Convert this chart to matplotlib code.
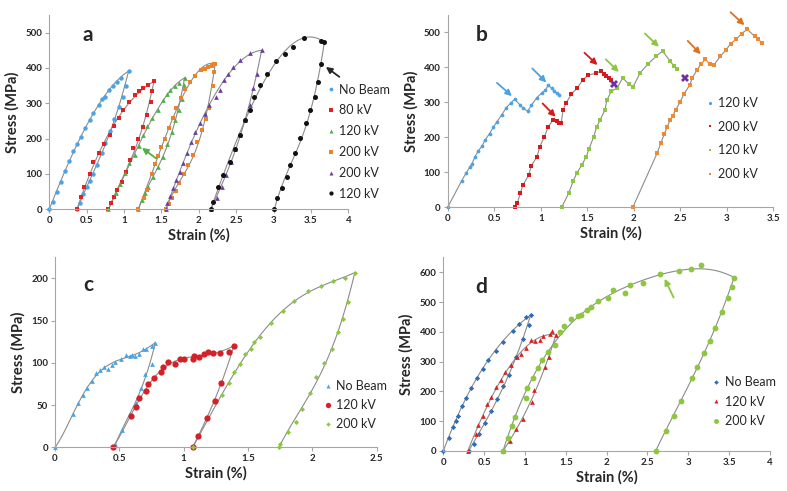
import numpy as np
import matplotlib
matplotlib.use('Agg')
import matplotlib.pyplot as plt
from matplotlib.lines import Line2D
from matplotlib.ticker import FuncFormatter

plt.rcParams['font.family'] = ['Lato', 'DejaVu Sans']

# ---- panel a: cyclic loading, one beam condition per cycle ----
a_nb_x = [0, 0.05, 0.10, 0.16, 0.21, 0.27, 0.32, 0.37, 0.42, 0.48, 0.54, 0.59, 0.66, 0.70, 0.74, 0.80, 0.85,
          0.90, 0.96, 1.06, 1.02, 0.98, 0.93, 0.87, 0.81, 0.75, 0.70, 0.64, 0.59, 0.54, 0.50, 0.45, 0.41, 0.37]
a_nb_y = [0, 22, 50, 78, 109, 137, 165, 184, 205, 229, 254, 274, 295, 311, 318, 339, 349,
          361, 373, 391, 348, 318, 290, 256, 222, 188, 160, 126, 100, 80, 62, 42, 19, 0]
a_80_x = [0.37, 0.42, 0.47, 0.54, 0.59, 0.66, 0.73, 0.81, 0.87, 0.93, 0.99, 1.06, 1.15, 1.20, 1.26, 1.32, 1.40,
          1.38, 1.36, 1.31, 1.25, 1.19, 1.12, 1.08, 1.03, 0.97, 0.91, 0.87, 0.83, 0.79]
a_80_y = [0, 36, 64, 100, 133, 160, 185, 210, 235, 259, 281, 304, 323, 334, 344, 351, 362,
          335, 304, 268, 234, 200, 174, 139, 106, 76, 56, 34, 19, 0]
a_120g_x = [0.79, 0.89, 0.95, 1.01, 1.07, 1.15, 1.20, 1.26, 1.31, 1.38, 1.46, 1.52, 1.57, 1.62, 1.68, 1.74, 1.81,
            1.80, 1.77, 1.73, 1.68, 1.64, 1.57, 1.52, 1.46, 1.39, 1.32, 1.28, 1.24, 1.19]
a_120g_y = [0, 45, 72, 102, 130, 153, 179, 210, 235, 258, 282, 309, 326, 339, 348, 358, 372,
            351, 313, 282, 252, 219, 186, 149, 120, 92, 62, 45, 26, 0]
a_200o_x = [1.19, 1.27, 1.31, 1.37, 1.41, 1.46, 1.50, 1.55, 1.60, 1.65, 1.70, 1.76, 1.82, 1.88, 1.95, 2.03, 2.08,
            2.12, 2.17, 2.20, 2.22, 2.21, 2.19, 2.14, 2.09, 2.04, 1.98, 1.92, 1.86, 1.80, 1.74, 1.69, 1.64, 1.60, 1.56]
a_200o_y = [0, 33, 55, 100, 128, 152, 175, 200, 230, 258, 288, 315, 340, 360, 378, 393, 398,
            403, 407, 412, 412, 388, 349, 288, 257, 225, 190, 155, 125, 100, 75, 52, 32, 15, 0]
a_200p_x = [1.56, 1.57, 1.61, 1.66, 1.70, 1.75, 1.79, 1.84, 1.89, 1.95, 2.02, 2.08, 2.14, 2.23, 2.28, 2.34, 2.39,
            2.46, 2.55, 2.68, 2.84, 2.78, 2.73, 2.68, 2.62, 2.55, 2.48, 2.43, 2.36, 2.31, 2.24, 2.16]
a_200p_y = [0, 17, 38, 60, 83, 106, 130, 160, 190, 218, 243, 270, 295, 318, 339, 367, 382,
            403, 424, 443, 450, 384, 342, 295, 252, 210, 172, 134, 97, 64, 31, 0]
a_120k_x = [2.16, 2.19, 2.26, 2.32, 2.42, 2.48, 2.55, 2.62, 2.68, 2.74, 2.82, 2.91, 3.03, 3.15, 3.26, 3.41, 3.63,
            3.68, 3.64, 3.60, 3.55, 3.49, 3.43, 3.36, 3.29, 3.22, 3.18, 3.11, 3.05, 3.01]
a_120k_y = [0, 21, 64, 97, 134, 172, 210, 252, 280, 318, 353, 384, 420, 439, 459, 486, 475,
            473, 410, 360, 318, 282, 243, 201, 158, 124, 92, 59, 31, 0]

# ---- panel b ----
b_120a_x = [0, 0.15, 0.20, 0.24, 0.26, 0.29, 0.33, 0.37, 0.40, 0.45, 0.49, 0.53, 0.58, 0.63, 0.68, 0.72,
            0.78, 0.81, 0.86, 0.90, 0.96, 1.01, 1.05, 1.08, 1.12, 1.14, 1.17, 1.20]
b_120a_y = [0, 76, 99, 116, 124, 143, 162, 175, 192, 211, 229, 245, 264, 285, 299, 309,
            292, 283, 275, 292, 314, 327, 335, 349, 340, 333, 326, 321]
b_200a_x = [0.72, 0.75, 0.78, 0.81, 0.87, 0.90, 0.96, 0.99, 1.04, 1.08, 1.13, 1.17, 1.20, 1.22, 1.24, 1.27,
            1.33, 1.39, 1.45, 1.51, 1.59, 1.65, 1.68, 1.70, 1.73, 1.75]
b_200a_y = [0, 13, 40, 64, 92, 119, 145, 173, 202, 230, 249, 248, 242, 242, 278, 297,
            324, 340, 364, 378, 383, 390, 380, 376, 371, 364]
b_120b_x = [1.225, 1.30, 1.35, 1.39, 1.44, 1.49, 1.52, 1.57, 1.60, 1.64, 1.69, 1.71, 1.76, 1.82, 1.88,
            1.95, 1.99, 2.07, 2.15, 2.24, 2.31, 2.39, 2.43, 2.47]
b_120b_y = [0, 40, 76, 99, 120, 145, 168, 202, 229, 251, 278, 306, 333, 340, 370,
            352, 343, 385, 409, 432, 447, 418, 405, 395]
b_200b_x = [1.99, 2.25, 2.29, 2.33, 2.36, 2.39, 2.42, 2.45, 2.50, 2.54, 2.60, 2.63, 2.68, 2.72, 2.77,
            2.82, 2.86, 2.93, 2.99, 3.04, 3.10, 3.16, 3.22, 3.30, 3.34, 3.38]
b_200b_y = [0, 154, 183, 211, 230, 249, 262, 278, 302, 324, 349, 371, 392, 409, 423,
            409, 406, 432, 449, 468, 480, 497, 509, 489, 480, 470]
b_fail_x = [1.79, 2.55]
b_fail_y = [354, 371]

# ---- panel c ----
c_nb_x = [0, 0.14, 0.18, 0.22, 0.25, 0.29, 0.32, 0.35, 0.38, 0.41, 0.44, 0.47, 0.51, 0.55, 0.58, 0.60, 0.62,
          0.65, 0.68, 0.71, 0.75, 0.78, 0.75, 0.70, 0.67, 0.63, 0.58, 0.52, 0.47]
c_nb_y = [0, 40, 52, 62, 70, 78, 88, 92, 95, 93, 98, 101, 105, 109, 108, 109, 108,
          110, 116, 117, 120, 124, 99, 87, 70, 53, 40, 20, 4]
c_120_x = [0.45, 0.59, 0.63, 0.65, 0.71, 0.72, 0.77, 0.82, 0.84, 0.88, 0.93, 0.97, 1.00, 1.07, 1.08, 1.12,
           1.16, 1.19, 1.23, 1.28, 1.35, 1.39, 1.29, 1.24, 1.18, 1.11, 1.07]
c_120_y = [0, 37, 48, 58, 67, 75, 82, 89, 95, 101, 99, 104, 105, 104, 108, 107,
           111, 113, 112, 112, 113, 120, 76, 55, 35, 13, 0]
c_200_x = [1.07, 1.30, 1.35, 1.39, 1.44, 1.48, 1.52, 1.55, 1.59, 1.68, 1.77, 1.86, 1.97, 2.07, 2.16, 2.25,
           2.33, 2.28, 2.24, 2.20, 2.15, 2.09, 2.03, 1.98, 1.92, 1.87, 1.81, 1.75, 1.74]
c_200_y = [0, 62, 76, 89, 99, 110, 117, 125, 131, 147, 161, 173, 185, 191, 197, 200,
           207, 172, 152, 136, 116, 100, 83, 64, 45, 30, 18, 4, 0]

# ---- panel d ----
d_nb_x = [0, 0.07, 0.12, 0.15, 0.18, 0.23, 0.28, 0.34, 0.41, 0.48, 0.55, 0.64, 0.73, 0.85, 0.93, 1.01, 1.07,
          1.05, 0.98, 0.89, 0.80, 0.73, 0.66, 0.58, 0.51, 0.44, 0.37, 0.31]
d_nb_y = [0, 45, 82, 101, 119, 152, 179, 213, 246, 275, 306, 337, 367, 404, 425, 449, 457,
          423, 375, 315, 255, 219, 174, 134, 95, 56, 22, 0]
d_120_x = [0.30, 0.40, 0.43, 0.49, 0.54, 0.59, 0.65, 0.71, 0.76, 0.83, 0.90, 0.95, 1.01, 1.07, 1.12, 1.18,
           1.22, 1.31, 1.33, 1.38, 1.30, 1.25, 1.11, 1.08, 0.97, 0.89, 0.82, 0.73]
d_120_y = [0, 56, 87, 118, 158, 182, 216, 238, 264, 289, 317, 326, 347, 373, 369, 373,
           386, 392, 403, 390, 317, 283, 205, 166, 107, 74, 34, 0]
d_200_x = [0.73, 0.79, 0.84, 0.88, 1.01, 1.03, 1.10, 1.16, 1.21, 1.28, 1.37, 1.43, 1.48, 1.56, 1.65, 1.69,
           1.76, 1.81, 1.90, 2.02, 2.08, 2.22, 2.29, 2.45, 2.65, 2.89, 3.03, 3.16, 3.56,
           3.53, 3.48, 3.41, 3.33, 3.26, 3.19, 3.11, 3.04, 2.91, 2.82, 2.73, 2.60]
d_200_y = [0, 45, 84, 115, 177, 210, 244, 278, 306, 333, 356, 399, 420, 443, 453, 457,
           473, 482, 505, 515, 541, 530, 557, 563, 594, 604, 611, 625, 582,
           550, 513, 465, 414, 370, 330, 283, 246, 168, 118, 67, 0]

W, H = 787, 491
GRAY = '#8c8c8c'
TXT = '#262626'


def pix_axes(fig, left, top, right, bottom):
    return fig.add_axes([left / W, 1 - bottom / H, (right - left) / W, (bottom - top) / H])


def style(ax, xmax, xstep, ymax, ystep, ytop):
    ax.set_xlim(0, xmax)
    ax.set_ylim(0, ytop)
    ax.set_xticks(np.arange(0, xmax + 1e-9, xstep))
    ax.set_yticks(np.arange(0, ymax + 1e-9, ystep))
    ax.xaxis.set_major_formatter(FuncFormatter(lambda v, p: f'{v:g}'))
    for s in ['top', 'right']:
        ax.spines[s].set_visible(False)
    for s in ['left', 'bottom']:
        ax.spines[s].set_color('#a6a6a6')
        ax.spines[s].set_linewidth(0.8)
    ax.tick_params(direction='out', length=3, width=0.8, color='#a6a6a6',
                   labelsize=7, labelcolor=TXT, pad=2)
    for lab in ax.get_xticklabels() + ax.get_yticklabels():
        lab.set_fontweight('bold')
    ax.set_xlabel('Strain (%)', fontsize=10.5, fontweight='bold', color=TXT, labelpad=2)
    ax.set_ylabel('Stress (MPa)', fontsize=10.5, fontweight='bold', color=TXT, labelpad=4)


def trend(ax, x, y, degs):
    # smooth trend line: separate fit for the loading and unloading branch
    x = np.asarray(x, float)
    y = np.asarray(y, float)
    k = int(np.argmax(x))
    for (bx, by), deg in zip([(x[:k + 1], y[:k + 1]), (x[k:], y[k:])], degs):
        w = np.ones(len(bx))
        w[0] = w[-1] = 20
        p = np.polyfit(bx, by, deg, w=w)
        xs = np.linspace(bx[0], bx[-1], 120)
        ax.plot(xs, np.clip(np.polyval(p, xs), 0, None), color=GRAY, lw=0.8, zorder=1)


def series(ax, x, y, color, marker, ms, label, degs=None):
    if degs is None:
        ax.plot(x, y, color=GRAY, lw=0.8, zorder=1)
    else:
        trend(ax, x, y, degs)
    ax.plot(x, y, ls='none', marker=marker, color=color, ms=ms, mew=0, clip_on=False, zorder=2)
    return Line2D([], [], ls='none', marker=marker, color=color, ms=ms * 0.85, mew=0, label=label)


def legend(ax, handles, mx, y0, spacing):
    fs = 9
    ax.legend(handles=handles, loc='upper left', frameon=False, fontsize=fs,
              bbox_to_anchor=((mx - 5) / W, 1 - (y0 - 8) / H), bbox_transform=ax.figure.transFigure,
              borderpad=0, borderaxespad=0, handlelength=0.75, handletextpad=0.3,
              labelspacing=(spacing - 12.5) / (fs * 100 / 72), labelcolor=TXT)


def arrow(ax, head, tail, color):
    ax.annotate('', xy=head, xytext=tail,
                arrowprops=dict(arrowstyle='-|>', color=color, lw=1.3, mutation_scale=9,
                                shrinkA=0, shrinkB=0))


fig = plt.figure(figsize=(W / 100, H / 100), dpi=100)

# panel a
ax = pix_axes(fig, 49.3, 15, 348.3, 209.3)
style(ax, 4, 0.5, 500, 100, 550)
hs = [series(ax, a_nb_x, a_nb_y, '#4ba3e3', 'o', 3.2, 'No Beam', (3, 3)),
      series(ax, a_80_x, a_80_y, '#e32124', 's', 2.7, '80 kV', (3, 3)),
      series(ax, a_120g_x, a_120g_y, '#4fb045', '^', 3.4, '120 kV', (3, 3)),
      series(ax, a_200o_x, a_200o_y, '#e8822b', 's', 2.7, '200 kV', (3, 3)),
      series(ax, a_200p_x, a_200p_y, '#6b3fa0', '^', 3.4, '200 kV', (3, 3)),
      series(ax, a_120k_x, a_120k_y, '#111111', 'o', 3.6, '120 kV', (3, 3))]
legend(ax, hs, 331, 91.7, 21.3)
arrow(ax, (1.24, 174), (1.43, 144), '#4fb045')
arrow(ax, (3.70, 403), (3.88, 375), '#262626')
ax.text(0.51, 492, 'a', fontsize=15, fontweight='bold', color=TXT, ha='center', va='center')

# panel b
ax = pix_axes(fig, 447.7, 15, 773.3, 207.3)
style(ax, 3.5, 0.5, 500, 100, 550)
hs = [series(ax, b_120a_x, b_120a_y, '#4ba3e3', 'o', 2.7, '120 kV'),
      series(ax, b_200a_x, b_200a_y, '#d7191c', 's', 2.5, '200 kV'),
      series(ax, b_120b_x, b_120b_y, '#8dc63f', 's', 2.5, '120 kV'),
      series(ax, b_200b_x, b_200b_y, '#f08a32', 's', 2.5, '200 kV')]
ax.plot(b_fail_x, b_fail_y, ls='none', marker='X', color='#7030a0', ms=5.5, mew=0, zorder=3)
legend(ax, hs, 710, 105, 24.2)
arrow(ax, (0.69, 318), (0.53, 356), '#4ba3e3')
arrow(ax, (1.06, 357), (0.91, 397), '#4ba3e3')
arrow(ax, (1.16, 259), (1.02, 297), '#d7191c')
arrow(ax, (1.61, 407), (1.47, 442), '#d7191c')
arrow(ax, (1.84, 387), (1.70, 423), '#8dc63f')
arrow(ax, (2.27, 459), (2.12, 497), '#8dc63f')
arrow(ax, (2.72, 438), (2.58, 476), '#e07020')
arrow(ax, (3.19, 521), (3.04, 558), '#e07020')
ax.text(0.36, 492, 'b', fontsize=15, fontweight='bold', color=TXT, ha='center', va='center')

# panel c
ax = pix_axes(fig, 55, 257.3, 376.7, 447.3)
style(ax, 2.5, 0.5, 200, 50, 225)
hs = [series(ax, c_nb_x, c_nb_y, '#4ba3e3', '^', 3.4, 'No Beam', (5, 3)),
      series(ax, c_120_x, c_120_y, '#d42027', 'o', 4.5, '120 kV', (5, 3)),
      series(ax, c_200_x, c_200_y, '#8dc63f', 'D', 2.6, '200 kV', (4, 3))]
legend(ax, hs, 328.3, 388.3, 19.5)
ax.text(0.26, 192, 'c', fontsize=15, fontweight='bold', color=TXT, ha='center', va='center')

# panel d
ax = pix_axes(fig, 443.3, 257.3, 770, 451)
style(ax, 4, 0.5, 600, 100, 650)
hs = [series(ax, d_nb_x, d_nb_y, '#2f6db5', 'D', 2.7, 'No Beam', (3, 3)),
      series(ax, d_120_x, d_120_y, '#e02020', '^', 3.4, '120 kV', (3, 3)),
      series(ax, d_200_x, d_200_y, '#8dc63f', 'o', 4.2, '200 kV', (4, 3))]
legend(ax, hs, 716.7, 384.3, 20)
arrow(ax, (2.71, 578), (2.82, 515), '#8dc63f')
ax.text(0.46, 552, 'd', fontsize=15, fontweight='bold', color=TXT, ha='center', va='center')

fig.savefig('out.png', dpi=100)
